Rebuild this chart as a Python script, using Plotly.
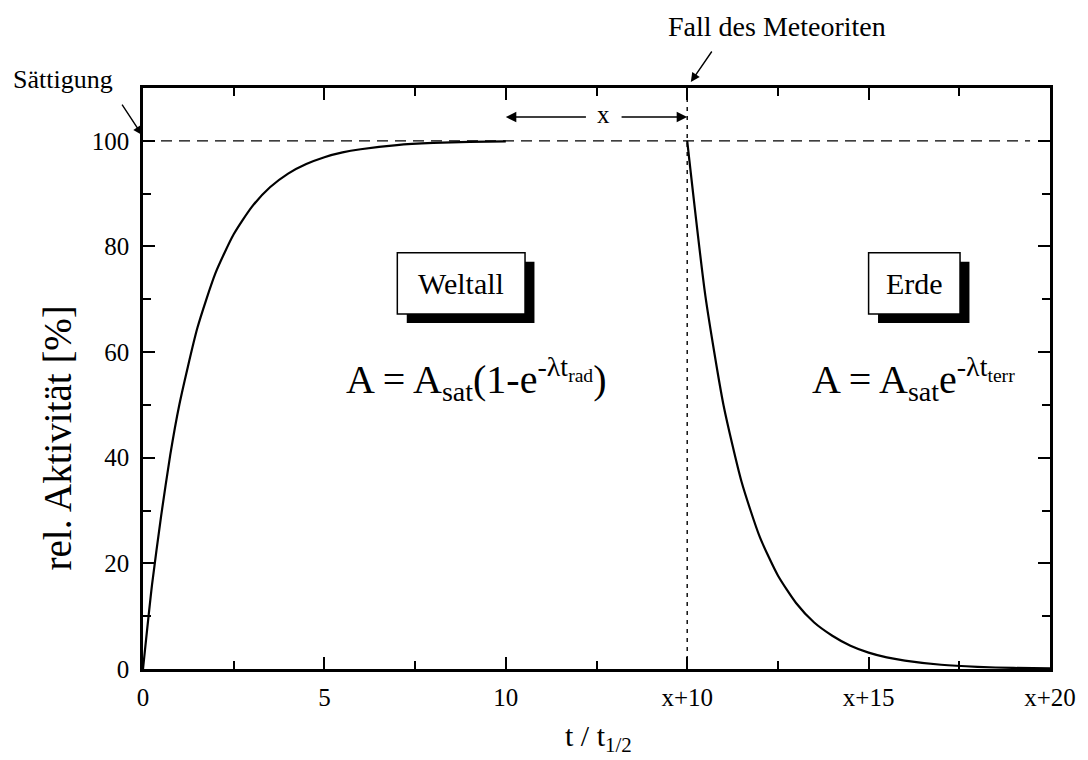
import plotly.graph_objects as go

# Activity build-up in space (time in half-lives) and decay on Earth after the fall
t_space = [0, 0.25, 0.5, 0.75, 1, 1.5, 2, 2.5, 3, 3.5, 4, 4.5, 5, 5.5, 6, 7, 8, 9, 10]
a_space = [0, 16, 29, 40.5, 50, 64.6, 75, 82.3, 87.5, 91.2, 93.8, 95.6, 96.9, 97.8, 98.4,
           99.2, 99.6, 99.8, 99.9]

t_earth = [15, 15.5, 16, 16.5, 17, 17.5, 18, 18.5, 19, 19.5, 20, 20.5, 21, 22, 23, 24, 25]
a_earth = [100, 70.7, 50, 35.4, 25, 17.7, 12.5, 8.8, 6.3, 4.4, 3.1, 2.2, 1.6, 0.8, 0.4, 0.2, 0.1]

x_tickvals = [0, 5, 10, 15, 20, 25]
x_ticktext = ["0", "5", "10", "x+10", "x+15", "x+20"]
y_tickvals = [0, 20, 40, 60, 80, 100]

saturation = 100
fall_time = 15
gap_start = 10

FONT = "Liberation Serif"

fig = go.Figure()

# saturation level
fig.add_trace(go.Scatter(x=[0, 24.45], y=[saturation, saturation], mode="lines",
                         line=dict(color="black", width=1.3, dash="11px,7px"),
                         hoverinfo="skip", showlegend=False))
# moment of the fall
fig.add_trace(go.Scatter(x=[fall_time, fall_time], y=[0, 110], mode="lines",
                         line=dict(color="black", width=1.4, dash="4px,5px"),
                         hoverinfo="skip", showlegend=False))

fig.add_trace(go.Scatter(x=t_space, y=a_space, mode="lines",
                         line=dict(color="black", width=2.2, shape="spline", smoothing=0.6),
                         showlegend=False))
fig.add_trace(go.Scatter(x=t_earth, y=a_earth, mode="lines",
                         line=dict(color="black", width=2.2, shape="spline", smoothing=0.6),
                         showlegend=False))

axis_common = dict(
    showline=True, linecolor="black", linewidth=2.5, mirror="allticks",
    ticks="inside", ticklen=12, tickwidth=2, tickcolor="black",
    showgrid=False, zeroline=False,
    tickfont=dict(family=FONT, size=25, color="black"),
)

fig.update_xaxes(range=[0, 25], tickvals=x_tickvals, ticktext=x_ticktext,
                 ticklabelstandoff=4,
                 minor=dict(tickvals=[2.5, 7.5, 12.5, 17.5, 22.5], ticklen=8,
                            tickwidth=2, tickcolor="black", ticks="inside"),
                 **axis_common)
fig.update_yaxes(range=[0, 110], tickvals=y_tickvals, ticklabelstandoff=6,
                 minor=dict(tickvals=[10, 30, 50, 70, 90], ticklen=8,
                            tickwidth=2, tickcolor="black", ticks="inside"),
                 **axis_common)

# Boxes with drop shadows
def shadow_box(x0, x1, y0, y1, dx, dy):
    fig.add_shape(type="rect", xref="x", yref="y", x0=x0 + dx, x1=x1 + dx,
                  y0=y0 - dy, y1=y1 - dy, fillcolor="black", line=dict(width=0))
    fig.add_shape(type="rect", xref="x", yref="y", x0=x0, x1=x1, y0=y0, y1=y1,
                  fillcolor="white", line=dict(color="black", width=1.5))

shadow_box(7.01, 10.53, 67.2, 78.8, 0.26, 1.7)
shadow_box(20.0, 22.52, 67.2, 78.8, 0.26, 1.7)

ann = []
ann.append(dict(x=8.77, y=73.0, xref="x", yref="y", text="Weltall", showarrow=False,
                xanchor="center", yanchor="middle",
                font=dict(family=FONT, size=30, color="black")))
ann.append(dict(x=21.26, y=73.0, xref="x", yref="y", text="Erde", showarrow=False,
                xanchor="center", yanchor="middle",
                font=dict(family=FONT, size=30, color="black")))

ann.append(dict(x=9.17, y=55.0, xref="x", yref="y",
                text="A = A<sub>sat</sub>(1-e<sup>-λt<sub>rad</sub></sup>)",
                xanchor="center", yanchor="middle",
                showarrow=False, font=dict(family=FONT, size=40, color="black")))
ann.append(dict(x=21.24, y=55.0, xref="x", yref="y",
                text="A = A<sub>sat</sub>e<sup>-λt<sub>terr</sub></sup>",
                xanchor="center", yanchor="middle",
                showarrow=False, font=dict(family=FONT, size=40, color="black")))

# "x" span between end of irradiation and the fall
ann.append(dict(x=12.69, y=104.9, xref="x", yref="y", text="x", showarrow=False,
                xanchor="center", yanchor="middle",
                font=dict(family=FONT, size=25, color="black")))
ann.append(dict(x=gap_start, y=104.5, ax=12.25, ay=104.5, xref="x", yref="y",
                axref="x", ayref="y", text="", showarrow=True, arrowhead=2,
                arrowsize=1.4, arrowwidth=1.5, arrowcolor="black"))
ann.append(dict(x=fall_time, y=104.5, ax=13.15, ay=104.5, xref="x", yref="y",
                axref="x", ayref="y", text="", showarrow=True, arrowhead=2,
                arrowsize=1.4, arrowwidth=1.5, arrowcolor="black"))

# Labels above the frame
ann.append(dict(x=-0.0883, y=1.0138, xref="paper", yref="paper", text="Sättigung",
                xanchor="center", yanchor="middle",
                showarrow=False, font=dict(family=FONT, size=26, color="black")))
ann.append(dict(x=-0.001, y=0.919, ax=-21, ay=-32, xref="paper", yref="paper", text="",
                showarrow=True, arrowhead=2, arrowsize=1.3, arrowwidth=1.4,
                arrowcolor="black"))
ann.append(dict(x=0.699, y=1.105, xref="paper", yref="paper", text="Fall des Meteoriten",
                xanchor="center", yanchor="middle",
                showarrow=False, font=dict(family=FONT, size=28, color="black")))
ann.append(dict(x=0.604, y=1.0103, ax=22, ay=-32, xref="paper", yref="paper", text="",
                showarrow=True, arrowhead=2, arrowsize=1.3, arrowwidth=1.4,
                arrowcolor="black"))

# Axis titles
ann.append(dict(x=-0.094, y=0.398, xref="paper", yref="paper", text="rel. Aktivität [%]",
                textangle=-90, showarrow=False, xanchor="center", yanchor="middle",
                font=dict(family=FONT, size=39, color="black")))
ann.append(dict(x=0.502, y=-0.118, xref="paper", yref="paper", text="t / t<sub>1/2</sub>",
                showarrow=False, xanchor="center", yanchor="middle",
                font=dict(family=FONT, size=30, color="black")))

fig.update_layout(
    width=1088, height=760,
    margin=dict(l=143, r=28, t=88, b=91),
    paper_bgcolor="white", plot_bgcolor="white",
    annotations=ann,
    font=dict(family=FONT, color="black"),
)

fig.write_html("out.html")
